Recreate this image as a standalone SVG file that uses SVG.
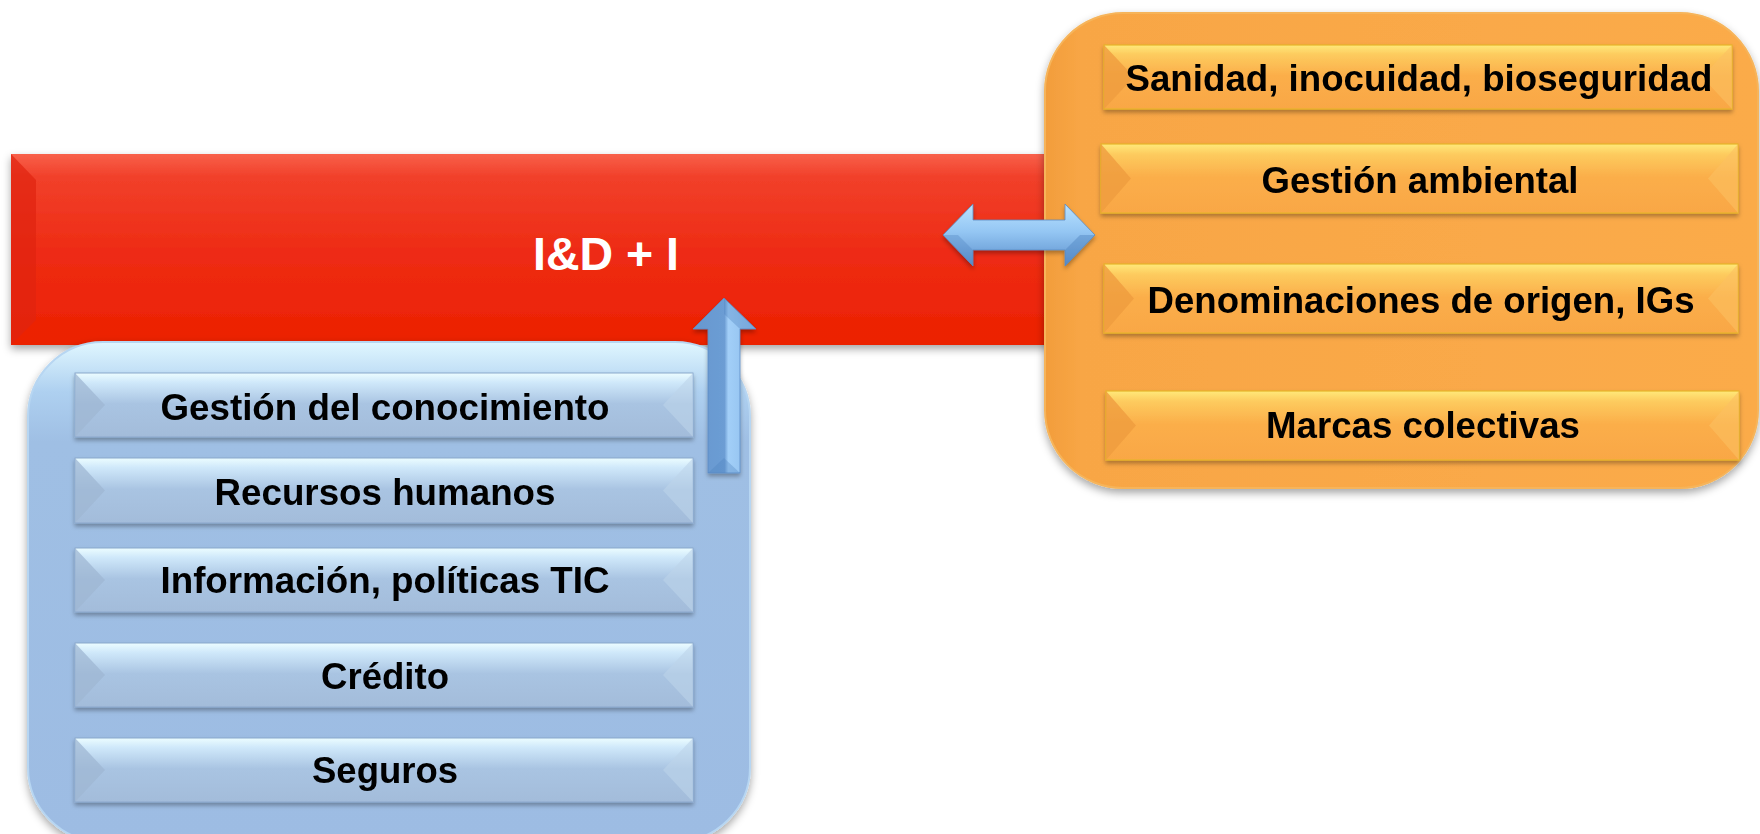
<svg xmlns="http://www.w3.org/2000/svg" width="1760" height="834" viewBox="0 0 1760 834">
<defs>
<linearGradient id="gRed" x1="0" y1="0" x2="0" y2="1">
<stop offset="0" stop-color="#f8604a"/><stop offset="0.12" stop-color="#f1402a"/><stop offset="0.5" stop-color="#ee2c15"/><stop offset="1" stop-color="#ec2100"/>
</linearGradient>
<linearGradient id="gBlueCont" x1="0" y1="0" x2="0" y2="1">
<stop offset="0" stop-color="#e0f7ff"/><stop offset="0.1" stop-color="#aed0f0"/><stop offset="0.2" stop-color="#9fbfe4"/><stop offset="1" stop-color="#9dbce3"/>
</linearGradient>
<linearGradient id="gOrCont" x1="0" y1="0" x2="1" y2="0">
<stop offset="0" stop-color="#f29d3c"/><stop offset="0.05" stop-color="#f8a645"/><stop offset="1" stop-color="#fbab4a"/>
</linearGradient>
<linearGradient id="gBlueItem" x1="0" y1="0" x2="0" y2="1">
<stop offset="0" stop-color="#ecfdff"/><stop offset="0.15" stop-color="#cfe8fa"/><stop offset="0.48" stop-color="#a9c4e2"/><stop offset="1" stop-color="#a3bcda"/>
</linearGradient>
<linearGradient id="gOrItem" x1="0" y1="0" x2="0" y2="1">
<stop offset="0" stop-color="#ffe97a"/><stop offset="0.15" stop-color="#fdcb5e"/><stop offset="0.48" stop-color="#fbae4a"/><stop offset="1" stop-color="#f9a745"/>
</linearGradient>
<linearGradient id="gDbl" x1="0" y1="0" x2="0" y2="1">
<stop offset="0" stop-color="#b9e2ff"/><stop offset="0.45" stop-color="#94c6f3"/><stop offset="1" stop-color="#5a8ecb"/>
</linearGradient>
<linearGradient id="gUp" x1="0" y1="0" x2="1" y2="0">
<stop offset="0" stop-color="#6797cf"/><stop offset="0.5" stop-color="#6c9dd4"/><stop offset="0.56" stop-color="#a2cff8"/><stop offset="1" stop-color="#8bbbea"/>
</linearGradient>
<filter id="sh" x="-10%" y="-10%" width="120%" height="130%">
<feDropShadow dx="0" dy="4" stdDeviation="4" flood-color="#000" flood-opacity="0.35"/>
</filter>
<filter id="shs" x="-5%" y="-20%" width="110%" height="150%">
<feDropShadow dx="0" dy="3" stdDeviation="2" flood-color="#000" flood-opacity="0.3"/>
</filter>
</defs>
<style>
.t{font-family:"Liberation Sans",Arial,sans-serif;font-weight:bold;font-size:36px;fill:#000;text-anchor:middle}
.tw{font-family:"Liberation Sans",Arial,sans-serif;font-weight:bold;font-size:46px;fill:#fff;text-anchor:middle}
.bi{fill:url(#gBlueItem);stroke:#8aa7cc;stroke-width:1}
.oi{fill:url(#gOrItem);stroke:#e6b42a;stroke-width:1.2}
.bl{fill:#9fb7d3;opacity:0.75}
.br{fill:#bcd3ea;opacity:0.6}
.ol{fill:#ef9c3e;opacity:0.8}
.or{fill:#fcc060;opacity:0.6}
</style>

<g id="rd">
<rect x="11" y="154" width="1060" height="191" fill="url(#gRed)" filter="url(#sh)"/>
<polygon points="11,154 36,180 36,320 11,345" fill="#e0230f" opacity="0.7"/>
<text class="tw" x="606" y="270" textLength="146" lengthAdjust="spacingAndGlyphs">I&amp;D + I</text>
</g>

<g id="blue-container">
<rect x="28" y="342" width="722" height="500" rx="75" ry="75" fill="url(#gBlueCont)" stroke="#b7d6f2" stroke-width="2" filter="url(#sh)"/>
</g>

<g id="blue-items">
<g id="b1" filter="url(#shs)">
<rect class="bi" x="75" y="373" width="618" height="64"/>
<polygon class="bl" points="75,373 105,405 75,437"/>
<polygon class="br" points="693,373 663,405 693,437"/>
<text class="t" x="385" y="420" textLength="449" lengthAdjust="spacingAndGlyphs">Gestión del conocimiento</text>
</g>
<g id="b2" filter="url(#shs)">
<rect class="bi" x="75" y="458" width="618" height="65"/>
<polygon class="bl" points="75,458 105,490.5 75,523"/>
<polygon class="br" points="693,458 663,490.5 693,523"/>
<text class="t" x="385" y="505" textLength="341" lengthAdjust="spacingAndGlyphs">Recursos humanos</text>
</g>
<g id="b3" filter="url(#shs)">
<rect class="bi" x="75" y="548" width="618" height="64"/>
<polygon class="bl" points="75,548 105,580 75,612"/>
<polygon class="br" points="693,548 663,580 693,612"/>
<text class="t" x="385" y="593" textLength="449" lengthAdjust="spacingAndGlyphs">Información, políticas TIC</text>
</g>
<g id="b4" filter="url(#shs)">
<rect class="bi" x="75" y="643" width="618" height="64"/>
<polygon class="bl" points="75,643 105,675 75,707"/>
<polygon class="br" points="693,643 663,675 693,707"/>
<text class="t" x="385" y="689" textLength="128" lengthAdjust="spacingAndGlyphs">Crédito</text>
</g>
<g id="b5" filter="url(#shs)">
<rect class="bi" x="75" y="738" width="618" height="64"/>
<polygon class="bl" points="75,738 105,770 75,802"/>
<polygon class="br" points="693,738 663,770 693,802"/>
<text class="t" x="385" y="783" textLength="146" lengthAdjust="spacingAndGlyphs">Seguros</text>
</g>
</g>

<g id="orange-container">
<rect x="1045" y="13" width="713" height="475" rx="78" ry="78" fill="url(#gOrCont)" stroke="#f6b45a" stroke-width="2" filter="url(#sh)"/>
</g>

<g id="orange-items">
<g id="o1" filter="url(#shs)">
<rect class="oi" x="1104" y="45" width="628" height="64"/>
<polygon class="ol" points="1104,45 1134,77 1104,109"/>
<polygon class="or" points="1732,45 1702,77 1732,109"/>
<text class="t" x="1419" y="91" textLength="587" lengthAdjust="spacingAndGlyphs">Sanidad, inocuidad, bioseguridad</text>
</g>
<g id="o2" filter="url(#shs)">
<rect class="oi" x="1101" y="144" width="637" height="69"/>
<polygon class="ol" points="1101,144 1131,178.5 1101,213"/>
<polygon class="or" points="1738,144 1708,178.5 1738,213"/>
<text class="t" x="1420" y="193" textLength="317" lengthAdjust="spacingAndGlyphs">Gestión ambiental</text>
</g>
<g id="o3" filter="url(#shs)">
<rect class="oi" x="1104" y="264" width="634" height="69"/>
<polygon class="ol" points="1104,264 1134,298.5 1104,333"/>
<polygon class="or" points="1738,264 1708,298.5 1738,333"/>
<text class="t" x="1421" y="313" textLength="547" lengthAdjust="spacingAndGlyphs">Denominaciones de origen, IGs</text>
</g>
<g id="o4" filter="url(#shs)">
<rect class="oi" x="1106" y="391" width="633" height="69"/>
<polygon class="ol" points="1106,391 1136,425.5 1106,460"/>
<polygon class="or" points="1739,391 1709,425.5 1739,460"/>
<text class="t" x="1423" y="438" textLength="314" lengthAdjust="spacingAndGlyphs">Marcas colectivas</text>
</g>
</g>

<g id="connectors">
<g id="up-arrow" filter="url(#shs)">
<polygon points="724,298 756,329 740,329 740,473 708,473 708,329 693,329" fill="url(#gUp)" stroke="#5a8bc4" stroke-width="0.8"/>
<polygon points="724,298 756,329 740,329 724,314" fill="#4f84c0" opacity="0.35"/>
<polygon points="708,473 724,458 740,473" fill="#4f84c0" opacity="0.35"/>
</g>
<g id="double-arrow" filter="url(#shs)">
<polygon points="943,235 973,204 973,220 1065,220 1065,204 1095,235 1065,266 1065,250 973,250 973,266" fill="url(#gDbl)" stroke="#5b8ac2" stroke-width="0.8"/>
<polygon points="943,235 973,266 973,250 958,235" fill="#4f84c0" opacity="0.35"/>
<polygon points="1095,235 1065,266 1065,250 1080,235" fill="#4f84c0" opacity="0.45"/>
</g>
</g>
</svg>
